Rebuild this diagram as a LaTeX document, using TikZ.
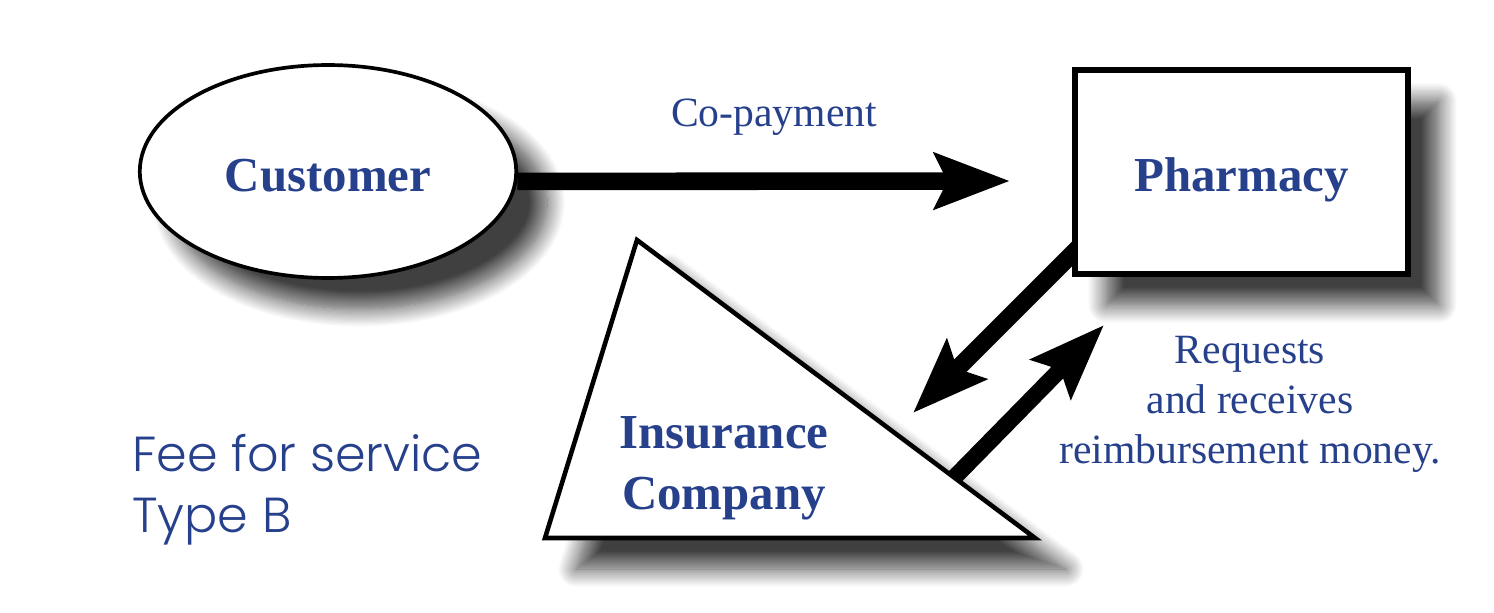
\documentclass[tikz,border=0pt]{standalone}
\usepackage{fontspec}
\setmainfont{Liberation Serif}
\newfontfamily\gothicfont{Poppins Light}
\usetikzlibrary{arrows.meta,shapes.geometric,shadows.blur,backgrounds}
\definecolor{labelblue}{RGB}{38,64,140}
\tikzset{
	softshadow/.style={blur shadow={shadow xshift=.62cm,shadow yshift=-.62cm,shadow blur radius=.36cm,shadow blur steps=16,shadow opacity=75}},
	partytext/.style={text=labelblue,font=\bfseries\fontsize{27.8}{34.7}\selectfont,align=center,inner sep=0pt},
	partybox/.style={partytext,draw=black,fill=white,softshadow},
	flowlabel/.style={text=labelblue,font=\fontsize{23.7}{28.5}\selectfont,align=center,inner sep=0pt},
	flowarrow/.style={draw=black,-{Stealth[length=1.5cm,width=1.1cm,inset=.25cm]}},
}
\begin{document}
\begin{tikzpicture}[x=.02cm,y=-.02cm]
				\useasboundingbox (0,0) rectangle (1494,612);
				\node[partybox,ellipse,line width=2.1pt,minimum width=7.53cm,minimum height=4.26cm,text height=28.2pt,text depth=6pt] (customer) at (328,171.5) {Customer};
				\node[partybox,rectangle,line width=3.4pt,minimum width=6.66cm,minimum height=4.08cm,text height=28.4pt,text depth=6pt] (pharmacy) at (1241.5,172) {Pharmacy};
				\coordinate (apex) at (637,240);
				\coordinate (footleft) at (545,538);
				\coordinate (footright) at (1035,538);
				\draw[line width=2.6pt,fill=white,softshadow,miter limit=20] (apex) -- (footleft) -- (footright) -- cycle;
				\node[partytext] (insurance) at (724,468) {Insurance\\Company};
				\coordinate (copaytip) at (1010,181);
				\coordinate (claimtip) at (913,413);
				\coordinate (moneytip) at (1104,325);
				\coordinate (moneyfoot) at (945,487);
				\coordinate (claimfoot) at (1090,236);
				\draw[flowarrow,line width=10pt] (customer.-3) -- (copaytip);
				\begin{scope}[on background layer]
					\draw[flowarrow,line width=10pt] (claimfoot) -- (claimtip);
					\draw[flowarrow,line width=9.4pt] (moneyfoot) -- (moneytip);
				\end{scope}
				\node[flowlabel] (copay) at (774,117) {Co-payment};
				\node[flowlabel] (reimburse) at (1250,404) {Requests\\and receives\\reimbursement money.};
				\node[flowlabel,font=\gothicfont\fontsize{28}{34.7}\selectfont,align=left,anchor=west] (feetype) at (132,490) {Fee for service\\Type B};
			\end{tikzpicture}
\end{document}
